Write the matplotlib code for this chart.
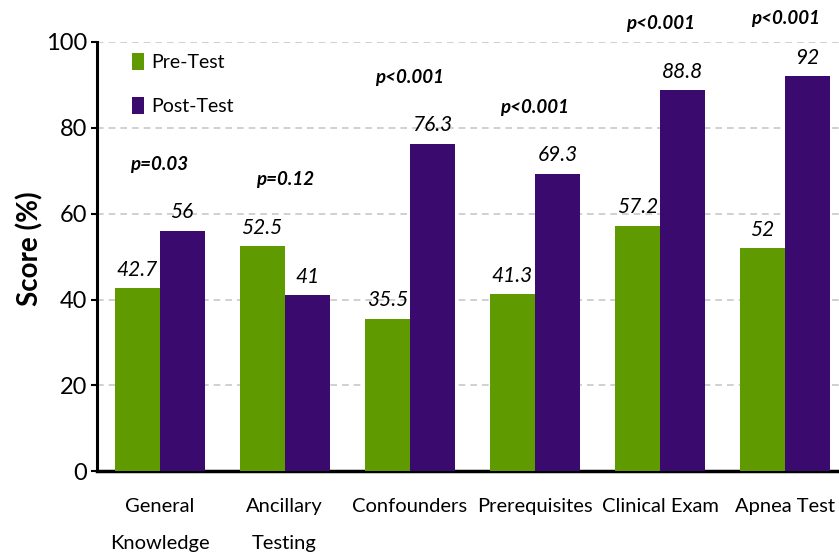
import matplotlib
matplotlib.use("Agg")
import matplotlib.pyplot as plt
import numpy as np

categories = ["General\nKnowledge", "Ancillary\nTesting", "Confounders", "Prerequisites", "Clinical Exam", "Apnea Test"]
pre_test = [42.7, 52.5, 35.5, 41.3, 57.2, 52]
post_test = [56, 41, 76.3, 69.3, 88.8, 92]
pre_labels = ["42.7", "52.5", "35.5", "41.3", "57.2", "52"]
post_labels = ["56", "41", "76.3", "69.3", "88.8", "92"]
p_values = ["p=0.03", "p=0.12", "p<0.001", "p<0.001", "p<0.001", "p<0.001"]
yticks = [0, 20, 40, 60, 80, 100]

plt.rcParams['font.family'] = ['Lato', 'DejaVu Sans']

green = "#5f9a00"
purple = "#3b0a6e"

fig = plt.figure(figsize=(8.39, 5.59), dpi=100)
ax = fig.add_axes([0.1156, 0.157, 0.8844, 0.768])

x = np.arange(len(categories))
w = 0.36
ax.bar(x - w/2, pre_test, w, color=green, label="Pre-Test", zorder=3)
ax.bar(x + w/2, post_test, w, color=purple, label="Post-Test", zorder=3)

for i in range(len(categories)):
    ax.annotate(pre_labels[i], (x[i] - w/2, pre_test[i]), xytext=(0, 6), textcoords="offset points",
                ha="center", va="bottom", fontsize=15, style="italic")
    ax.annotate(post_labels[i], (x[i] + w/2, post_test[i]), xytext=(0, 6), textcoords="offset points",
                ha="center", va="bottom", fontsize=15, style="italic")
    ytop = min(max(pre_test[i], post_test[i]) + 15.5, 105.5)
    ax.text(x[i], ytop, p_values[i], ha="center", va="center", fontsize=13.5,
            style="italic", fontweight="bold", clip_on=False)

ax.set_xlim(-0.5, 5.43)
ax.set_ylim(0, 100)
ax.set_yticks(yticks)
ax.set_yticklabels([str(t) for t in yticks], fontsize=17)
ax.set_xticks(x)
ax.set_xticklabels(categories, fontsize=14.5, linespacing=2.45)
ax.tick_params(axis="x", length=0, pad=19)
ax.tick_params(axis="y", length=4, width=1.5, pad=3)
ax.yaxis.grid(True, linestyle=(0, (4, 3)), color="#c8c8c8", linewidth=1.2, zorder=0)
ax.set_axisbelow(True)
for s in ["top", "right"]:
    ax.spines[s].set_visible(False)
ax.spines["left"].set_linewidth(2.2)
ax.spines["bottom"].set_linewidth(2.5)
fig.text(30/839, 0.555, "Score (%)", rotation=90, ha="center", va="center",
         fontsize=20, fontweight="bold")

leg = ax.legend(loc="upper left", bbox_to_anchor=(0.024, 1.015), frameon=False, fontsize=14,
                handlelength=0.6, handleheight=1.0, handletextpad=0.35, labelspacing=1.3)

fig.savefig("out.png", dpi=100)
